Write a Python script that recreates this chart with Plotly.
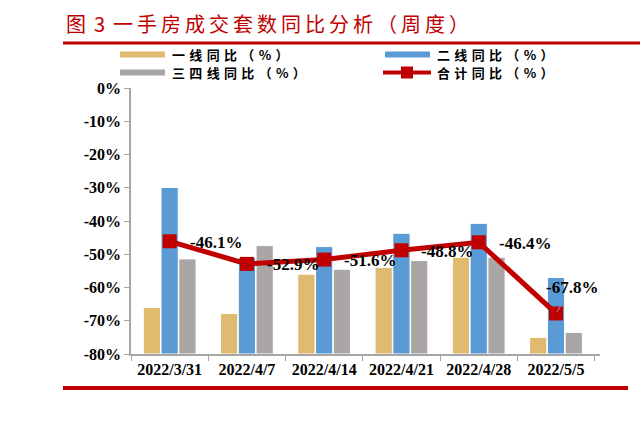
import plotly.graph_objects as go

# ---- data ----
categories = ["2022/3/31", "2022/4/7", "2022/4/14", "2022/4/21", "2022/4/28", "2022/5/5"]
tier1 = [-66.0, -67.8, -56.0, -54.0, -50.9, -75.0]
tier2 = [-29.9, -51.0, -47.7, -43.7, -40.7, -57.0]
tier34 = [-51.4, -47.4, -54.5, -51.9, -50.9, -73.5]
total = [-46.1, -52.9, -51.6, -48.8, -46.4, -67.8]

series_names = ["一线同比（%）", "二线同比（%）", "三四线同比（%）", "合计同比（%）"]
title_text = "图 3 一手房成交套数同比分析（周度）"
yticks = [0, -10, -20, -30, -40, -50, -60, -70, -80]
ytick_text = [f"{v}%" for v in yticks]
BASE = -80

# ---- style ----
C1, C2, C3, CR = "#E0BA6E", "#5B9BD5", "#AAA6A5", "#C00000"
W, H = 640, 438
L, R, T, B = 131, 600, 88, 354  # plot area in px


def px(x):
    return (x - L) / (R - L)


def py(y):
    return (B - y) / (B - T)


def spaced(s, sep, space="\u2005"):
    out = [space if ch == " " else ch for ch in s]
    return sep.join(out)


serif = "Liberation Serif, Times New Roman, serif"
cjk = "Noto Sans CJK SC"

fig = go.Figure()
for vals, col, name in [(tier1, C1, series_names[0]), (tier2, C2, series_names[1]), (tier34, C3, series_names[2])]:
    fig.add_trace(go.Bar(x=categories, y=[v - BASE for v in vals], base=BASE, name=name,
                         marker=dict(color=col, line=dict(color="white", width=1))))

fig.add_trace(go.Scatter(x=categories, y=total, name=series_names[3], mode="lines+markers",
                         line=dict(color=CR, width=5),
                         marker=dict(symbol="square", size=14, color=CR)))

annotations = []
for i, (c, v) in enumerate(zip(categories, total)):
    txt = f"{v:.1f}%"
    if i == len(categories) - 1:
        annotations.append(dict(x=c, y=v, xref="x", yref="y", text=txt, showarrow=True,
                                ax=16, ay=-26, arrowhead=0, arrowwidth=1, arrowcolor="#A0A0A0",
                                standoff=2, startstandoff=8,
                                font=dict(family=serif, size=17, color="black", weight="bold")))
    else:
        annotations.append(dict(x=c, y=v, xref="x", yref="y", text=txt, showarrow=False,
                                xanchor="left", yanchor="middle", xshift=18, yshift=-1,
                                font=dict(family=serif, size=17, color="black", weight="bold")))

# title
annotations.append(dict(x=px(64), y=py(23), xref="paper", yref="paper", xanchor="left", yanchor="middle",
                        text=spaced(title_text, "\u2009", ""), showarrow=False,
                        font=dict(family=cjk, size=20, color=CR)))

shapes = [
    dict(type="line", xref="paper", yref="paper", x0=px(63), x1=px(640), y0=py(43), y1=py(43),
         line=dict(color=CR, width=3)),
    dict(type="line", xref="paper", yref="paper", x0=px(63), x1=px(628), y0=py(388), y1=py(388),
         line=dict(color=CR, width=4)),
]

# legend (manual)
leg = [(120, 54.5, C1, series_names[0], "bar"), (385, 54.5, C2, series_names[1], "bar"),
       (120, 72.5, C3, series_names[2], "bar"), (385, 72.5, CR, series_names[3], "line")]
for x0, yc, col, name, kind in leg:
    if kind == "bar":
        shapes.append(dict(type="rect", xref="paper", yref="paper", x0=px(x0), x1=px(x0 + 45),
                           y0=py(yc + 3), y1=py(yc - 3), fillcolor=col, line=dict(width=0)))
    else:
        shapes.append(dict(type="line", xref="paper", yref="paper", x0=px(x0 - 2), x1=px(x0 + 46),
                           y0=py(yc), y1=py(yc), line=dict(color=col, width=4)))
        shapes.append(dict(type="rect", xref="paper", yref="paper", x0=px(x0 + 16), x1=px(x0 + 28),
                           y0=py(yc + 6), y1=py(yc - 6), fillcolor=col, line=dict(width=0)))
    annotations.append(dict(x=px(x0 + 50), y=py(yc), xref="paper", yref="paper", xanchor="left",
                            yanchor="middle", text=spaced(name, "\u2004"), showarrow=False,
                            font=dict(family=cjk, size=13, color="black", weight="bold")))

fig.update_layout(
    width=W, height=H,
    margin=dict(l=L, r=W - R, t=T, b=H - B, pad=0),
    paper_bgcolor="white", plot_bgcolor="white",
    barmode="group", bargap=0.31, bargroupgap=0.03,
    showlegend=False,
    annotations=annotations, shapes=shapes,
    xaxis=dict(showgrid=False, showline=True, linecolor="#A6A6A6", linewidth=1.5,
               ticks="outside", ticklen=5, tickcolor="#A6A6A6", tickson="boundaries",
               tickfont=dict(family=serif, size=16, color="black", weight="bold")),
    yaxis=dict(range=[-80, 0], tickvals=yticks, ticktext=ytick_text, showgrid=False, zeroline=False,
               showline=True, linecolor="#A6A6A6", linewidth=1.5, ticks="outside", ticklen=5,
               tickcolor="#A6A6A6",
               tickfont=dict(family=serif, size=16, color="black", weight="bold")),
)

fig.write_html("out.html")
